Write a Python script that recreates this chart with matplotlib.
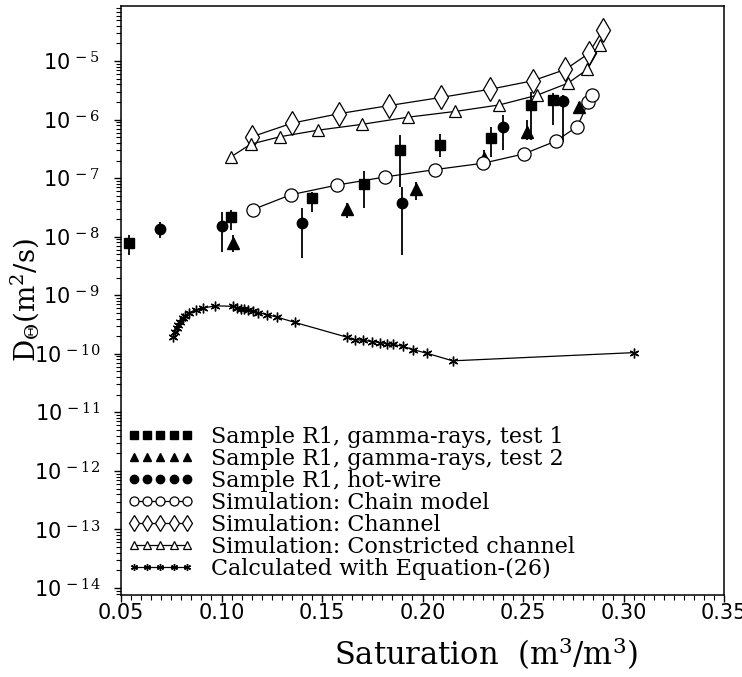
import numpy as np
import matplotlib.pyplot as plt
from matplotlib.ticker import LogLocator, MultipleLocator, FixedLocator, FuncFormatter

# Sample R1, gamma-rays, test 1
sq_x = [0.054, 0.1045, 0.145, 0.171, 0.189, 0.2087, 0.234, 0.254, 0.265]
sq_y = [7.8e-9, 2.15e-8, 4.5e-8, 7.9e-8, 3.0e-7, 3.7e-7, 4.8e-7, 1.8e-6, 2.2e-6]
sq_lo = [4.9e-9, 1.3e-8, 2.6e-8, 3.1e-8, 7.1e-8, 2.3e-7, 2.3e-7, 4.5e-7, 8.1e-7]
sq_hi = [1.07e-8, 2.9e-8, 5.8e-8, 1.3e-7, 5.5e-7, 5.6e-7, 7.4e-7, 3.0e-6, 2.8e-6]

# Sample R1, gamma-rays, test 2
tri_x = [0.1056, 0.1623, 0.1968, 0.2306, 0.2518, 0.278]
tri_y = [7.8e-9, 3.0e-8, 6.6e-8, 2.2e-7, 6.2e-7, 1.66e-6]
tri_lo = [5.5e-9, 2.1e-8, 4.3e-8, 1.4e-7, 4.5e-7, 1.3e-6]
tri_hi = [1.07e-8, 3.7e-8, 8.7e-8, 3.0e-7, 1.0e-6, 2.0e-6]

# Sample R1, hot-wire
dot_x = [0.0694, 0.1002, 0.140, 0.190, 0.2399, 0.2697]
dot_y = [1.35e-8, 1.5e-8, 1.7e-8, 3.7e-8, 7.6e-7, 2.1e-6]
dot_lo = [9.5e-9, 5.5e-9, 4.4e-9, 4.9e-9, 3.0e-7, 4.2e-7]
dot_hi = [1.8e-8, 2.6e-8, 3.1e-8, 7.1e-8, 1.2e-6, 2.6e-6]

# Simulations
chain_x = [0.1155, 0.1344, 0.1573, 0.1815, 0.2062, 0.2302, 0.2505, 0.2663, 0.277, 0.2825, 0.2843]
chain_y = [2.9e-8, 5.2e-8, 7.6e-8, 1.05e-7, 1.4e-7, 1.8e-7, 2.6e-7, 4.3e-7, 7.6e-7, 2.0e-6, 2.6e-6]

chan_x = [0.1152, 0.1351, 0.1583, 0.1835, 0.2094, 0.2336, 0.2548, 0.2711, 0.2827, 0.2897]
chan_y = [5.1e-7, 8.7e-7, 1.26e-6, 1.74e-6, 2.4e-6, 3.3e-6, 4.6e-6, 7.2e-6, 1.35e-5, 3.4e-5]

constr_x = [0.1046, 0.1145, 0.1291, 0.148, 0.1699, 0.1928, 0.2163, 0.2382, 0.2568, 0.2724, 0.282, 0.2883]
constr_y = [2.3e-7, 3.8e-7, 5.1e-7, 6.6e-7, 8.3e-7, 1.1e-6, 1.38e-6, 1.78e-6, 2.6e-6, 4.2e-6, 7.2e-6, 1.86e-5]

# Calculated with Equation-(26)
eq_x = [0.0760, 0.0769, 0.0777, 0.0785, 0.0794, 0.0807, 0.0818, 0.0840, 0.0873, 0.0910,
        0.0968, 0.1059, 0.1076, 0.1096, 0.1112, 0.1133, 0.1158, 0.1183, 0.1225, 0.1278,
        0.1366, 0.1623, 0.1664, 0.1705, 0.1747, 0.1789, 0.1822, 0.1855, 0.1905, 0.1954,
        0.2021, 0.215, 0.305]
eq_logy = [-9.705, -9.62, -9.56, -9.505, -9.45, -9.39, -9.35, -9.295, -9.25, -9.22,
           -9.18, -9.19, -9.21, -9.23, -9.24, -9.25, -9.27, -9.295, -9.33, -9.375,
           -9.465, -9.715, -9.76, -9.77, -9.79, -9.81, -9.825, -9.84, -9.875, -9.93,
           -9.99, -10.12, -9.98]
eq_y = [10.0 ** v for v in eq_logy]

labels = [
    "Sample R1, gamma-rays, test 1",
    "Sample R1, gamma-rays, test 2",
    "Sample R1, hot-wire",
    "Simulation: Chain model",
    "Simulation: Channel",
    "Simulation: Constricted channel",
    "Calculated with Equation-(26)",
]

plt.rcParams["mathtext.fontset"] = "dejavuserif"

fig = plt.figure(figsize=(7.42, 6.77), dpi=100)
ax = fig.add_axes([0.1631, 0.1211, 0.8127, 0.870])
ax.set_yscale("log")

lw = 0.9


def err(y, lo, hi):
    y = np.array(y)
    return [y - np.array(lo), np.array(hi) - y]


ax.errorbar(sq_x, sq_y, yerr=err(sq_y, sq_lo, sq_hi), fmt="none", ecolor="black", elinewidth=1.3)
ax.errorbar(tri_x, tri_y, yerr=err(tri_y, tri_lo, tri_hi), fmt="none", ecolor="black", elinewidth=1.3)
ax.errorbar(dot_x, dot_y, yerr=err(dot_y, dot_lo, dot_hi), fmt="none", ecolor="black", elinewidth=1.3)

h1, = ax.plot(sq_x, sq_y, ls="none", marker="s", ms=7, color="black")
h2, = ax.plot(tri_x, tri_y, ls="none", marker="^", ms=8, color="black")
h3, = ax.plot(dot_x, dot_y, ls="none", marker="o", ms=7.5, color="black")
h4, = ax.plot(chain_x, chain_y, "-", color="black", lw=lw, marker="o", ms=9.5,
              mfc="white", mec="black", mew=0.9)
h5, = ax.plot(chan_x, chan_y, "-", color="black", lw=lw, marker="d", ms=12,
              mfc="white", mec="black", mew=0.9)
h6, = ax.plot(constr_x, constr_y, "-", color="black", lw=lw, marker="^", ms=9,
              mfc="white", mec="black", mew=0.9)
h7, = ax.plot(eq_x, eq_y, "-", color="black", lw=lw, marker=(6, 2, 0), ms=7, mew=1.0)

ax.set_xlim(0.05, 0.35)
ax.set_ylim(10 ** -14.12, 10 ** -4.06)

ax.xaxis.set_major_locator(MultipleLocator(0.05))
ax.xaxis.set_minor_locator(MultipleLocator(0.005))
ax.xaxis.set_major_formatter(FuncFormatter(lambda v, p: f"{v:.2f}"))
ax.yaxis.set_major_locator(FixedLocator([10.0 ** e for e in range(-14, -4)]))
ax.yaxis.set_minor_locator(LogLocator(base=10, subs=np.arange(2, 10), numticks=30))
ax.yaxis.set_major_formatter(FuncFormatter(
    lambda v, p: r"10$^{\,%d}$" % int(round(np.log10(v))) if v > 0 else ""))
ax.yaxis.set_minor_formatter(FuncFormatter(lambda v, p: ""))

ax.tick_params(axis="both", which="major", direction="out", length=5, width=1,
               labelsize=15, pad=1)
ax.tick_params(axis="both", which="minor", direction="out", length=3.5, width=0.8)
ax.tick_params(axis="y", which="major", pad=10)
for s in ax.spines.values():
    s.set_linewidth(1.1)

ax.set_xlabel("Saturation  (m$^3$/m$^3$)", family="DejaVu Serif", fontsize=22)
ax.xaxis.set_label_coords(0.605, -0.068)
ax.set_ylabel(r"D$_\Theta$(m$^2$/s)", family="DejaVu Serif", fontsize=20)
ax.yaxis.set_label_coords(-0.131, 0.5)

leg = ax.legend([h1, h2, h3, h4, h5, h6, h7], labels, loc="upper left",
                bbox_to_anchor=(0.01, 0.287), frameon=False, numpoints=5,
                handlelength=3.0, handletextpad=0.8, labelspacing=0.0, borderaxespad=0,
                borderpad=0, prop={"family": "DejaVu Serif", "size": 16})
# smaller markers in the legend rows
for hd, size in zip(leg.legend_handles, [5.5, 6, 6, 6.5, 8, 6, 5]):
    hd.set_markersize(size)

fig.savefig("out.png", dpi=100)
